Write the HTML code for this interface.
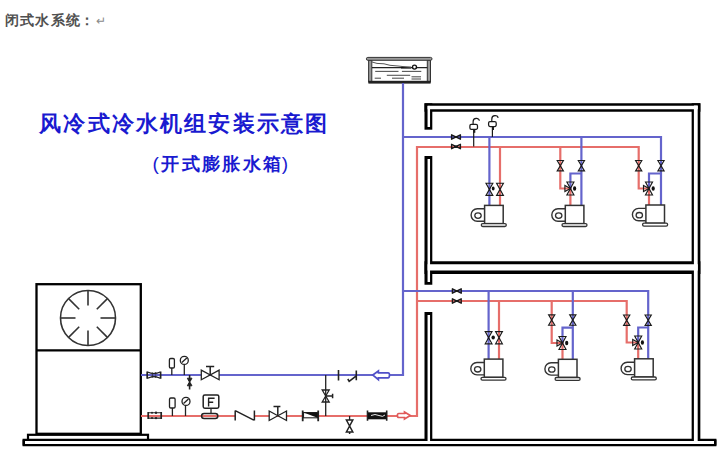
<!DOCTYPE html>
<html><head><meta charset="utf-8">
<style>
html,body{margin:0;padding:0;background:#fff;width:720px;height:461px;overflow:hidden}
svg{position:absolute;left:0;top:0}
.t{position:absolute;white-space:nowrap;font-family:"Liberation Sans",sans-serif;font-weight:bold;line-height:1}
</style></head><body>
<svg width="720" height="461" viewBox="0 0 720 461">
<defs>
 <g id="vv"><path d="M-3.4,-6.1 H3.4 L-3.4,6.1 H3.4 Z" fill="none" stroke="#1a1a1a" stroke-width="1.15" stroke-linejoin="miter"/></g>
 <g id="vs"><path d="M-3.1,-5.2 H3.1 L-3.1,5.2 H3.1 Z" fill="none" stroke="#1a1a1a" stroke-width="1.15" stroke-linejoin="miter"/></g>
 <g id="bv"><path d="M-4.4,-2.2 V2.2 L4.4,-2.2 V2.2 Z" fill="none" stroke="#1a1a1a" stroke-width="1.4" stroke-linejoin="round"/><rect x="-2" y="-0.9" width="4" height="1.8" fill="#1a1a1a"/></g>
 <g id="tv"><path d="M-3.5,-6.5 H3.5 L-3.5,6.5 H3.5 Z" fill="none" stroke="#1a1a1a" stroke-width="1.15"/><path d="M-5.5,-3 V3 L0,0 Z" fill="none" stroke="#1a1a1a" stroke-width="1.15"/><ellipse cx="4.2" cy="0" rx="1.6" ry="2.3" fill="#111"/></g>
 <g id="fcu">
  <path d="M0,3.4 H-7.3 A6.2,6.2 0 0 0 -7.3,15.8 H0" fill="#fff" stroke="#333" stroke-width="1.4"/>
  <ellipse cx="-6.6" cy="10.2" rx="3.2" ry="2.7" fill="#fff" stroke="#333" stroke-width="1.3"/>
  <rect x="0" y="0" width="18.6" height="18.2" fill="#fff" stroke="#333" stroke-width="1.5"/>
  <rect x="-3.3" y="18.2" width="25" height="2.9" rx="1.4" fill="#fff" stroke="#333" stroke-width="1.3"/>
 </g>
 <g id="avh"><rect x="-3.8" y="-4.9" width="7.6" height="4.9" rx="1.4" fill="#fff" stroke="#1a1a1a" stroke-width="1.25"/><path d="M-0.6,-4.9 V-7.6 C-0.6,-11.8 5.6,-11.8 5.6,-8.6" fill="none" stroke="#1a1a1a" stroke-width="1.2"/><path d="M0.6,0 V3.5" stroke="#1a1a1a" stroke-width="2"/></g>
</defs>

<!-- ===== ground & platform ===== -->
<rect x="23.7" y="440.8" width="691.6" height="3.5" fill="none" stroke="#000" stroke-width="2.3"/>
<rect x="28" y="434.8" width="120" height="6" fill="#fff" stroke="#000" stroke-width="2.2"/>

<!-- ===== chiller ===== -->
<rect x="36.5" y="284.2" width="104.3" height="149.6" fill="#fff" stroke="#000" stroke-width="2.3"/>
<line x1="36.5" y1="350.3" x2="140.8" y2="350.3" stroke="#000" stroke-width="2.3"/>
<circle cx="88" cy="318" r="27.5" fill="none" stroke="#333" stroke-width="1.6"/>
<g stroke="#333" stroke-width="1.6">
 <line x1="88" y1="305.5" x2="88" y2="290.5"/><line x1="88" y1="330.5" x2="88" y2="345.5"/>
 <line x1="75.5" y1="318" x2="60.5" y2="318"/><line x1="100.5" y1="318" x2="115.5" y2="318"/>
 <line x1="79.2" y1="309.2" x2="68.6" y2="298.6"/><line x1="96.8" y1="309.2" x2="107.4" y2="298.6"/>
 <line x1="79.2" y1="326.8" x2="68.6" y2="337.4"/><line x1="96.8" y1="326.8" x2="107.4" y2="337.4"/>
</g>

<!-- ===== building walls ===== -->
<g stroke="#000" fill="none" stroke-linecap="butt">
 <path d="M424.5,107.5 H700.4" stroke-width="8.4"/>
 <path d="M428.4,103.3 V129.7" stroke-width="7.8"/>
 <path d="M428.4,156.1 V284.7" stroke-width="7.8"/>
 <path d="M428.4,312 V446" stroke-width="7.8"/>
 <path d="M424.5,267.6 H700.4" stroke-width="12.6"/>
 <path d="M696,103.3 V446" stroke-width="8.7"/>
 <path d="M22.6,442.5 H716.4" stroke-width="7.5"/>
</g>
<g stroke="#fff" fill="none" stroke-linecap="butt">
 <path d="M427.6,107.5 H697.8" stroke-width="3.4"/>
 <path d="M428.8,105.9 V127" stroke-width="2.5"/>
 <path d="M428.8,159 V282" stroke-width="2.5"/>
 <path d="M428.8,315 V444" stroke-width="2.5"/>
 <path d="M427.6,267.35 H697.8" stroke-width="6.1"/>
 <path d="M695.8,105.5 V444" stroke-width="3.8"/>
 <path d="M25,442.55 H714" stroke-width="3.1"/>
</g>

<!-- ===== tank ===== -->
<rect x="368.6" y="60" width="3.2" height="22" fill="#9a9a9a" stroke="#333" stroke-width="1"/>
<rect x="427.3" y="60" width="3.2" height="22" fill="#9a9a9a" stroke="#333" stroke-width="1"/>
<rect x="368.4" y="80.8" width="62.2" height="2.8" fill="#222"/>
<rect x="366.4" y="57.4" width="65.6" height="2.9" rx="1.4" fill="#9a9a9a" stroke="#333" stroke-width="1"/>
<path d="M372,67.6 H427.3" stroke="#222" stroke-width="1.1"/>
<path d="M401,67.6 H411" stroke="#111" stroke-width="1.8"/>
<path d="M372,62 L377,63.4 L384,63.8 L390,65.3 L398,66 L405,66.8 L411,67.4" fill="none" stroke="#555" stroke-width="1"/>
<circle cx="414.5" cy="67.1" r="2" fill="#fff" stroke="#111" stroke-width="1.4"/>
<g stroke="#555" stroke-width="1.1">
 <line x1="375.2" y1="71.4" x2="398.5" y2="71.4"/><line x1="401.9" y1="71.4" x2="421.3" y2="71.4"/>
 <line x1="386.8" y1="75.3" x2="410.2" y2="75.3"/>
 <line x1="374.7" y1="78.2" x2="381" y2="78.2"/><line x1="392" y1="78.2" x2="404" y2="78.2"/>
 <line x1="411.5" y1="76.8" x2="421" y2="76.8"/><line x1="411.5" y1="79" x2="421" y2="79"/>
</g>
<!-- ===== pipes ===== -->
<g fill="none" stroke-width="2.2" stroke-linejoin="miter">
 <!-- red return -->
 <path stroke="#e66e6a" d="M141,416 H235.2 M254.4,416 H417 V147 H638.7 V188.5 H649 V205.4"/>
 <path stroke="#e66e6a" d="M500,147 V205.4"/>
 <path stroke="#e66e6a" d="M560.3,147 V188.5 H570.4 V205.4"/>
 <path stroke="#e66e6a" d="M417,301 H626.7 V342.5 H638.2 V359"/>
 <path stroke="#e66e6a" d="M499,301 V359"/>
 <path stroke="#e66e6a" d="M551.7,301 V343 H562.5 V359"/>
 <!-- blue supply -->
 <path stroke="#6464cc" d="M141,375 H403 V83"/>
 <path stroke="#6464cc" d="M403,137 H661 V205.4"/>
 <path stroke="#6464cc" d="M489.4,137 V205.4"/>
 <path stroke="#6464cc" d="M581.4,137 V205.4"/>
 <path stroke="#6464cc" d="M581.4,173.5 H570.4 V188.5"/>
 <path stroke="#6464cc" d="M661,173.5 H649 V188.5"/>
 <path stroke="#6464cc" d="M403,291 H648.2 V359"/>
 <path stroke="#6464cc" d="M488.6,291 V359"/>
 <path stroke="#6464cc" d="M572.8,291 V359"/>
 <path stroke="#6464cc" d="M572.8,327.7 H562.5 V343"/>
 <path stroke="#6464cc" d="M648.2,327.5 H638.2 V342.5"/>
</g>


<!-- ===== chiller piping components ===== -->
<!-- blue line -->
<g stroke="#222" stroke-width="1.3" fill="#fff">
 <!-- soft connector blue -->
 <path d="M147.2,371.4 V378.8 M160.6,371.4 V378.8" fill="none" stroke-width="1.7"/>
 <path d="M147.5,372 Q154,375 160.3,372 M147.5,378.2 Q154,375 160.3,378.2" fill="none" stroke-width="1.2"/>
 <circle cx="152.5" cy="373.6" r="1.1" fill="#222" stroke="none"/><circle cx="155.5" cy="373.4" r="1.1" fill="#222" stroke="none"/><circle cx="155.5" cy="376.6" r="1.1" fill="#222" stroke="none"/><circle cx="152.5" cy="376.4" r="1.1" fill="#222" stroke="none"/>
 <!-- thermometer -->
 <line x1="171.8" y1="368" x2="171.8" y2="375"/>
 <rect x="169.4" y="358.5" width="5" height="9.5" rx="1.3"/>
 <!-- gauge -->
 <line x1="184.3" y1="364.6" x2="184.3" y2="375"/>
 <circle cx="184.3" cy="360.4" r="4"/>
 <line x1="181.8" y1="362.6" x2="186.8" y2="358"/>
 <!-- drain valve -->
 <line x1="189.6" y1="375" x2="189.6" y2="389.5" stroke-width="1.6"/>
 <path d="M187.3,378.2 H192 L190.3,381.2 H188.9 Z M187.3,385.8 H192 L190.3,382.8 H188.9 Z" fill="#222" stroke-width="0.9"/>
 <!-- gate valve -->
 <path d="M201.3,370.2 V379.7 L219.1,370.2 V379.7 Z"/>
 <path d="M210.2,375 V366.4 M206,366.4 H214.2" fill="none" stroke-width="1.5"/>
 <!-- bypass valve -->
 <path d="M325.7,375 V416" fill="none" stroke="#222" stroke-width="1.3"/>
 <path d="M322.2,390 H329.2 L322.2,402 H329.2 Z" fill="none"/>
 <path d="M325.7,396 H332.5 M332.6,393.8 V398.2" fill="none" stroke-width="1.5"/>
 <!-- ticks / check valve -->
 <path d="M338.5,370 V380.4 M356.3,370.5 V380.2 M347.8,379 L349.2,381.4 L356.3,375.8" fill="none" stroke-width="1.6"/>
</g>
<!-- blue arrow -->
<path d="M372.8,375 L378.4,371 V372.9 H388 Q389.5,372.9 389.5,375 Q389.5,377.8 388,377.8 H378.4 V379.7 Z" fill="#fff" stroke="#5050c8" stroke-width="1.7"/>
<!-- red line -->
<g stroke="#222" stroke-width="1.3" fill="#fff">
 <path d="M148.2,411.9 V418.9 M161.2,411.9 V418.9" fill="none" stroke-width="1.7"/>
 <path d="M148.5,412.7 H161 M148.5,418.1 H161" fill="none" stroke-width="1.1"/>
 <circle cx="152" cy="412.7" r="1" fill="#222" stroke="none"/><circle cx="156" cy="412.7" r="1.2" fill="#222" stroke="none"/><circle cx="156" cy="418.1" r="1.2" fill="#222" stroke="none"/><circle cx="152" cy="418.1" r="1" fill="#222" stroke="none"/>
 <line x1="172.4" y1="408" x2="172.4" y2="416"/>
 <rect x="169.5" y="398" width="5.6" height="10" rx="1.3"/>
 <line x1="185.5" y1="405.5" x2="185.5" y2="416"/>
 <circle cx="186" cy="401.4" r="4"/>
 <line x1="183.5" y1="403.6" x2="188.5" y2="399"/>
 <!-- flow meter -->
 <line x1="211" y1="408" x2="211" y2="413.5"/>
 <rect x="203.2" y="395" width="15.6" height="13.2" rx="1.6" stroke-width="1.5"/>
 <rect x="201.6" y="413.4" width="16.2" height="5" rx="2.5" stroke-width="1.5" fill="none"/>
 <path d="M208.6,398 V406.5 M208,398.3 H214.6 M208.6,402.2 H213.2" fill="none" stroke-width="1.4"/>
 <!-- check N -->
 <path d="M235.2,410.6 V420.5 M235.2,410.6 L253.8,420.2 M254.4,410.6 V420.5" fill="none" stroke-width="1.5"/>
 <!-- gate valve red -->
 <path d="M269.2,411 V420.5 L286.5,411 V420.5 Z"/>
 <path d="M277.8,415.7 V406.4 M273.5,406.4 H280.4" fill="none" stroke-width="1.5"/>
 <!-- filter -->
 <path d="M302.7,410.4 V421.2 M318.2,410.4 V421.2" fill="none" stroke-width="1.8"/>
 <rect x="303.5" y="412.6" width="14" height="5.2" stroke-width="1.1"/>
 <path d="M303.5,412.6 H317.5 V417.8 Z" fill="#111" stroke="none"/>
 <!-- drain valve red -->
 <line x1="349.6" y1="416" x2="349.6" y2="420"/>
 <path d="M346.4,420 H352.8 L346.4,432 H352.8 Z" stroke-width="1.5" fill="none"/>
 <path d="M349.6,432 V434" stroke-width="1.5"/>
 <!-- black soft connector -->
 <path d="M367.5,410.5 V420.8 M386.7,410.5 V420.8" fill="none" stroke-width="1.6"/>
 <rect x="368" y="412.3" width="18.3" height="7" fill="#111" stroke="none"/>
 <path d="M371,415.5 Q375,413.5 379,415.5 T385,415" fill="none" stroke="#fff" stroke-width="0.9"/>
</g>
<!-- red arrow -->
<path d="M410.3,415.5 L404.5,412 V413.5 H398.8 Q397.4,413.5 397.4,415.5 Q397.4,417.5 398.8,417.5 H404.5 V418.9 Z" fill="#fff" stroke="#e05a5a" stroke-width="1.7"/>

<!-- ===== upper floor equipment ===== -->
<use href="#bv" x="456" y="137"/><use href="#bv" x="456" y="146.5"/>
<path d="M473.7,146.5 V129.3 M492.4,137 V126.5" stroke="#1a1a1a" stroke-width="1.2"/><use href="#avh" x="473.7" y="129.3"/><use href="#avh" x="492.4" y="126.5"/>
<use href="#vv" x="489.4" y="189.3"/><use href="#vv" x="500" y="189.3"/>
<ellipse cx="493.2" cy="188.6" rx="1.4" ry="2" fill="#111"/>
<use href="#vs" x="560.3" y="165.7"/><use href="#vs" x="581.4" y="165.7"/>
<use href="#tv" x="570.4" y="188.5"/>
<use href="#vs" x="638.7" y="165.7"/><use href="#vs" x="661" y="165.7"/>
<use href="#tv" x="649" y="188.5"/>
<use href="#fcu" x="484.6" y="205.4"/>
<use href="#fcu" x="565.3" y="205.4"/>
<use href="#fcu" x="645.9" y="205"/>

<!-- ===== lower floor equipment ===== -->
<use href="#bv" x="456.8" y="291"/><use href="#bv" x="456.8" y="301"/>
<use href="#vv" x="488.6" y="337.7"/><use href="#vv" x="499" y="337.7"/>
<ellipse cx="493.2" cy="337.6" rx="1.7" ry="2" fill="#111"/>
<use href="#vs" x="551.7" y="320"/><use href="#vs" x="572.8" y="320"/>
<use href="#tv" x="562.5" y="343"/>
<use href="#vs" x="626.7" y="320.2"/><use href="#vs" x="648.2" y="320.2"/>
<use href="#tv" x="638.2" y="342.5"/>
<use href="#fcu" x="484.3" y="359.1"/>
<use href="#fcu" x="558.4" y="359.3"/>
<use href="#fcu" x="634.6" y="358.8"/>

</svg>
<div class="t" style="left:4.5px;top:12.8px;font-size:14px;letter-spacing:1.45px;color:#505050;font-weight:bold">闭式水系统<span style="margin-left:-1.6px;font-weight:bold">：</span><span style="margin-left:0.5px;color:#8a8a8a;font-weight:normal;font-size:12px">↵</span></div>
<div class="t" style="left:39.3px;top:112.8px;font-size:22px;letter-spacing:2.16px;color:#1a1ad0">风冷式冷水机组安装示意图</div>
<div class="t" style="left:152.5px;top:154px;font-size:18px;letter-spacing:2.35px;color:#1a1ad0"><span style="font-weight:normal;font-size:19px">(</span>开式膨胀水箱<span style="font-weight:normal;font-size:19px;margin-left:-1.5px">)</span></div>
</body></html>
